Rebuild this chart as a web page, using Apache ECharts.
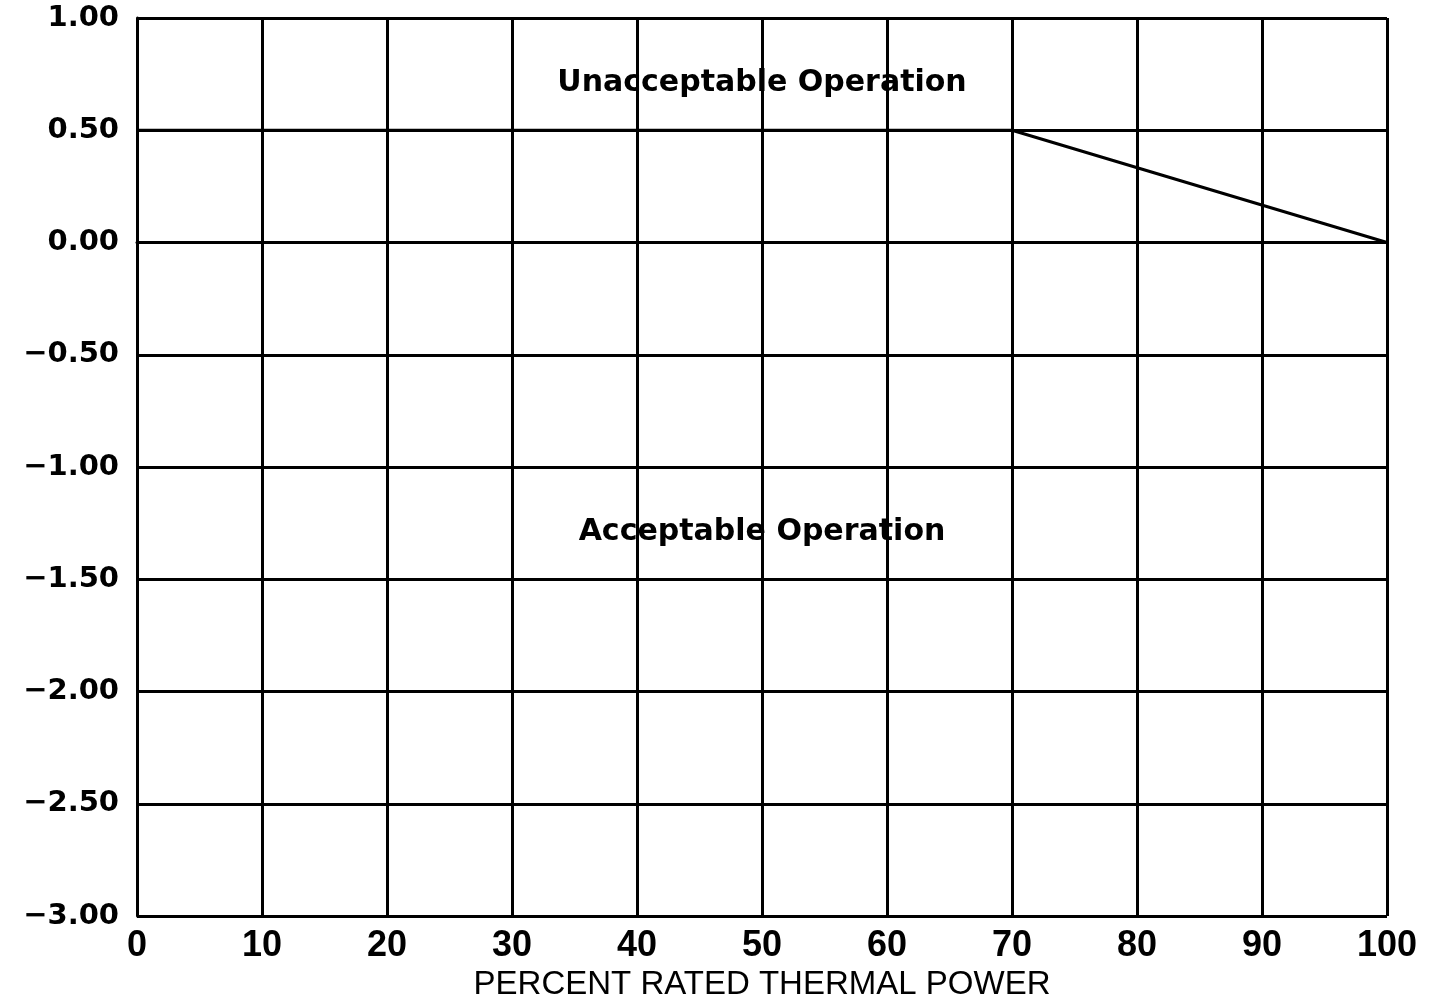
<!DOCTYPE html>
<html>
<head>
<meta charset="utf-8">
<script src="https://cdn.jsdelivr.net/npm/echarts@6/dist/echarts.min.js"></script>
<style>html,body{margin:0;padding:0;background:#fff}#c{width:1435px;height:1003px}</style>
</head>
<body>
<div id="c"></div>
<script>
const limitX = [0, 70, 100];
const limitY = [0.5, 0.5, 0.0];
const regionLabels = ['Unacceptable Operation', 'Acceptable Operation'];
const regionX = [50, 50];
const regionY = [0.71, -1.29];
const xAxisName = 'PERCENT RATED THERMAL POWER';

const chart = echarts.init(document.getElementById('c'));
const lineW = 3;
chart.setOption({
  animation: false,
  backgroundColor: '#fff',
  grid: { left: 137, right: 48, top: 18, bottom: 87, containLabel: false, outerBoundsMode: 'none' },
  xAxis: {
    type: 'value', min: 0, max: 100, interval: 10,
    name: xAxisName, nameLocation: 'middle', nameGap: 52,
    nameTextStyle: { fontFamily: 'Liberation Sans Narrow, Liberation Sans, sans-serif', fontSize: 33, color: '#000' },
    axisLine: { show: true, lineStyle: { color: '#000', width: lineW } },
    axisTick: { show: false },
    axisLabel: { margin: 12, fontFamily: 'Liberation Sans Narrow, Liberation Sans, sans-serif', fontWeight: 'bold', fontSize: 36, color: '#000' },
    splitLine: { show: true, lineStyle: { color: '#000', width: lineW } }
  },
  yAxis: {
    type: 'value', min: -3, max: 1, interval: 0.5,
    axisLine: { show: true, lineStyle: { color: '#000', width: lineW } },
    axisTick: { show: false },
    axisLabel: { margin: 18, fontFamily: 'DejaVu Sans, sans-serif', fontWeight: 'bold', fontSize: 29, color: '#000',
      formatter: v => (v < 0 ? '\u2212' + Math.abs(v).toFixed(2) : v.toFixed(2)) },
    splitLine: { show: true, lineStyle: { color: '#000', width: lineW } }
  },
  series: [
    {
      type: 'line', data: limitX.map((x, i) => [x, limitY[i]]),
      symbol: 'none', lineStyle: { color: '#000', width: 3 }, z: 3
    },
    {
      type: 'scatter', symbolSize: 0, itemStyle: { opacity: 1, color: '#000' },
      data: regionLabels.map((t, i) => ({ name: t, value: [regionX[i], regionY[i]] })),
      label: { show: true, position: 'inside', formatter: p => p.name, opacity: 1,
        fontFamily: 'DejaVu Sans, sans-serif', fontWeight: 'bold', fontSize: 30, color: '#000',
        textBorderWidth: 0 },
      z: 4
    }
  ]
});
</script>
</body>
</html>
